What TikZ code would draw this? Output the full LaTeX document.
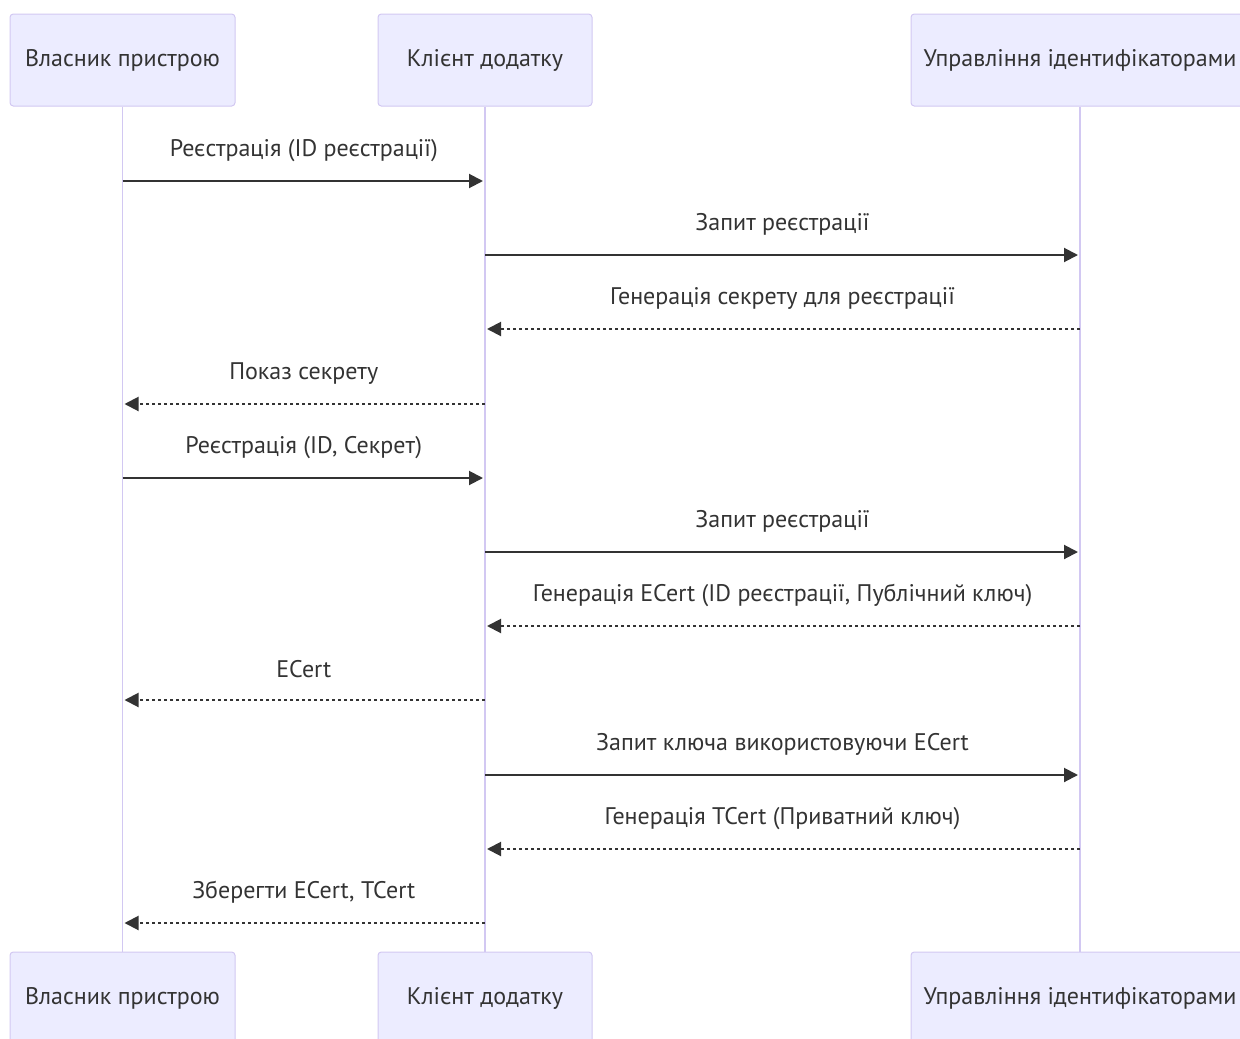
\documentclass[tikz,border=0pt]{standalone}
\usepackage{fontspec}
\setmainfont{PT Sans}
\usetikzlibrary{arrows.meta, positioning}
\definecolor{actorfill}{HTML}{ECECFF}
\definecolor{actorline}{HTML}{D2C8F2}
\definecolor{ink}{HTML}{333333}

\begin{document}
\begin{tikzpicture}[x=0.75pt, y=-0.75pt]
\useasboundingbox (0,0) rectangle (1240,1039);

\tikzset{actor/.style = {draw=actorline, fill=actorfill, rounded corners=2.5pt, line width=0.75pt, minimum height=69pt, inner sep=0pt, text=ink, font=\fontsize{18}{21}\selectfont}}
\tikzset{life/.style = {draw=actorline, line width=1.3pt}}
\tikzset{call/.style = {draw=ink, line width=1.5pt, -{Triangle[length=10.5pt, width=10.5pt]}, shorten >=1.5pt}}
\tikzset{reply/.style = {call, dash pattern=on 2.25pt off 2.25pt}}
\tikzset{msg/.style = {midway, yshift=23pt, text=ink, font=\fontsize{18}{21}\selectfont}}
% actors
\node[actor, minimum width=168.75pt] (own) at (122.5,60) {Власник пристрою};
\node[actor, minimum width=160.5pt] (cli) at (485,60) {Клієнт додатку};
\node[actor, minimum width=253.5pt] (idm) at (1080,60) {Управління ідентифікаторами};
\node[actor, minimum width=168.75pt] (ownB) at (122.5,998) {Власник пристрою};
\node[actor, minimum width=160.5pt] (cliB) at (485,998) {Клієнт додатку};
\node[actor, minimum width=253.5pt] (idmB) at (1080,998) {Управління ідентифікаторами};
% lifelines
\draw[life] (own) -- (ownB);
\draw[life] (cli) -- (cliB);
\draw[life] (idm) -- (idmB);
% messages
\draw[call] (own |- 0,181) -- (cli |- 0,181) node[msg] {Реєстрація (ID реєстрації)};
\draw[call] (cli |- 0,255) -- (idm |- 0,255) node[msg] {Запит реєстрації};
\draw[reply] (idm |- 0,329) -- (cli |- 0,329) node[msg] {Генерація секрету для реєстрації};
\draw[reply] (cli |- 0,404) -- (own |- 0,404) node[msg] {Показ секрету};
\draw[call] (own |- 0,478) -- (cli |- 0,478) node[msg] {Реєстрація (ID, Секрет)};
\draw[call] (cli |- 0,552) -- (idm |- 0,552) node[msg] {Запит реєстрації};
\draw[reply] (idm |- 0,626) -- (cli |- 0,626) node[msg] {Генерація ECert (ID реєстрації, Публічний ключ)};
\draw[reply] (cli |- 0,700) -- (own |- 0,700) node[msg] {ECert};
\draw[call] (cli |- 0,775) -- (idm |- 0,775) node[msg] {Запит ключа використовуючи ECert};
\draw[reply] (idm |- 0,849) -- (cli |- 0,849) node[msg] {Генерація TCert (Приватний ключ)};
\draw[reply] (cli |- 0,923) -- (own |- 0,923) node[msg] {Зберегти ECert, TCert};
\end{tikzpicture}
\end{document}
